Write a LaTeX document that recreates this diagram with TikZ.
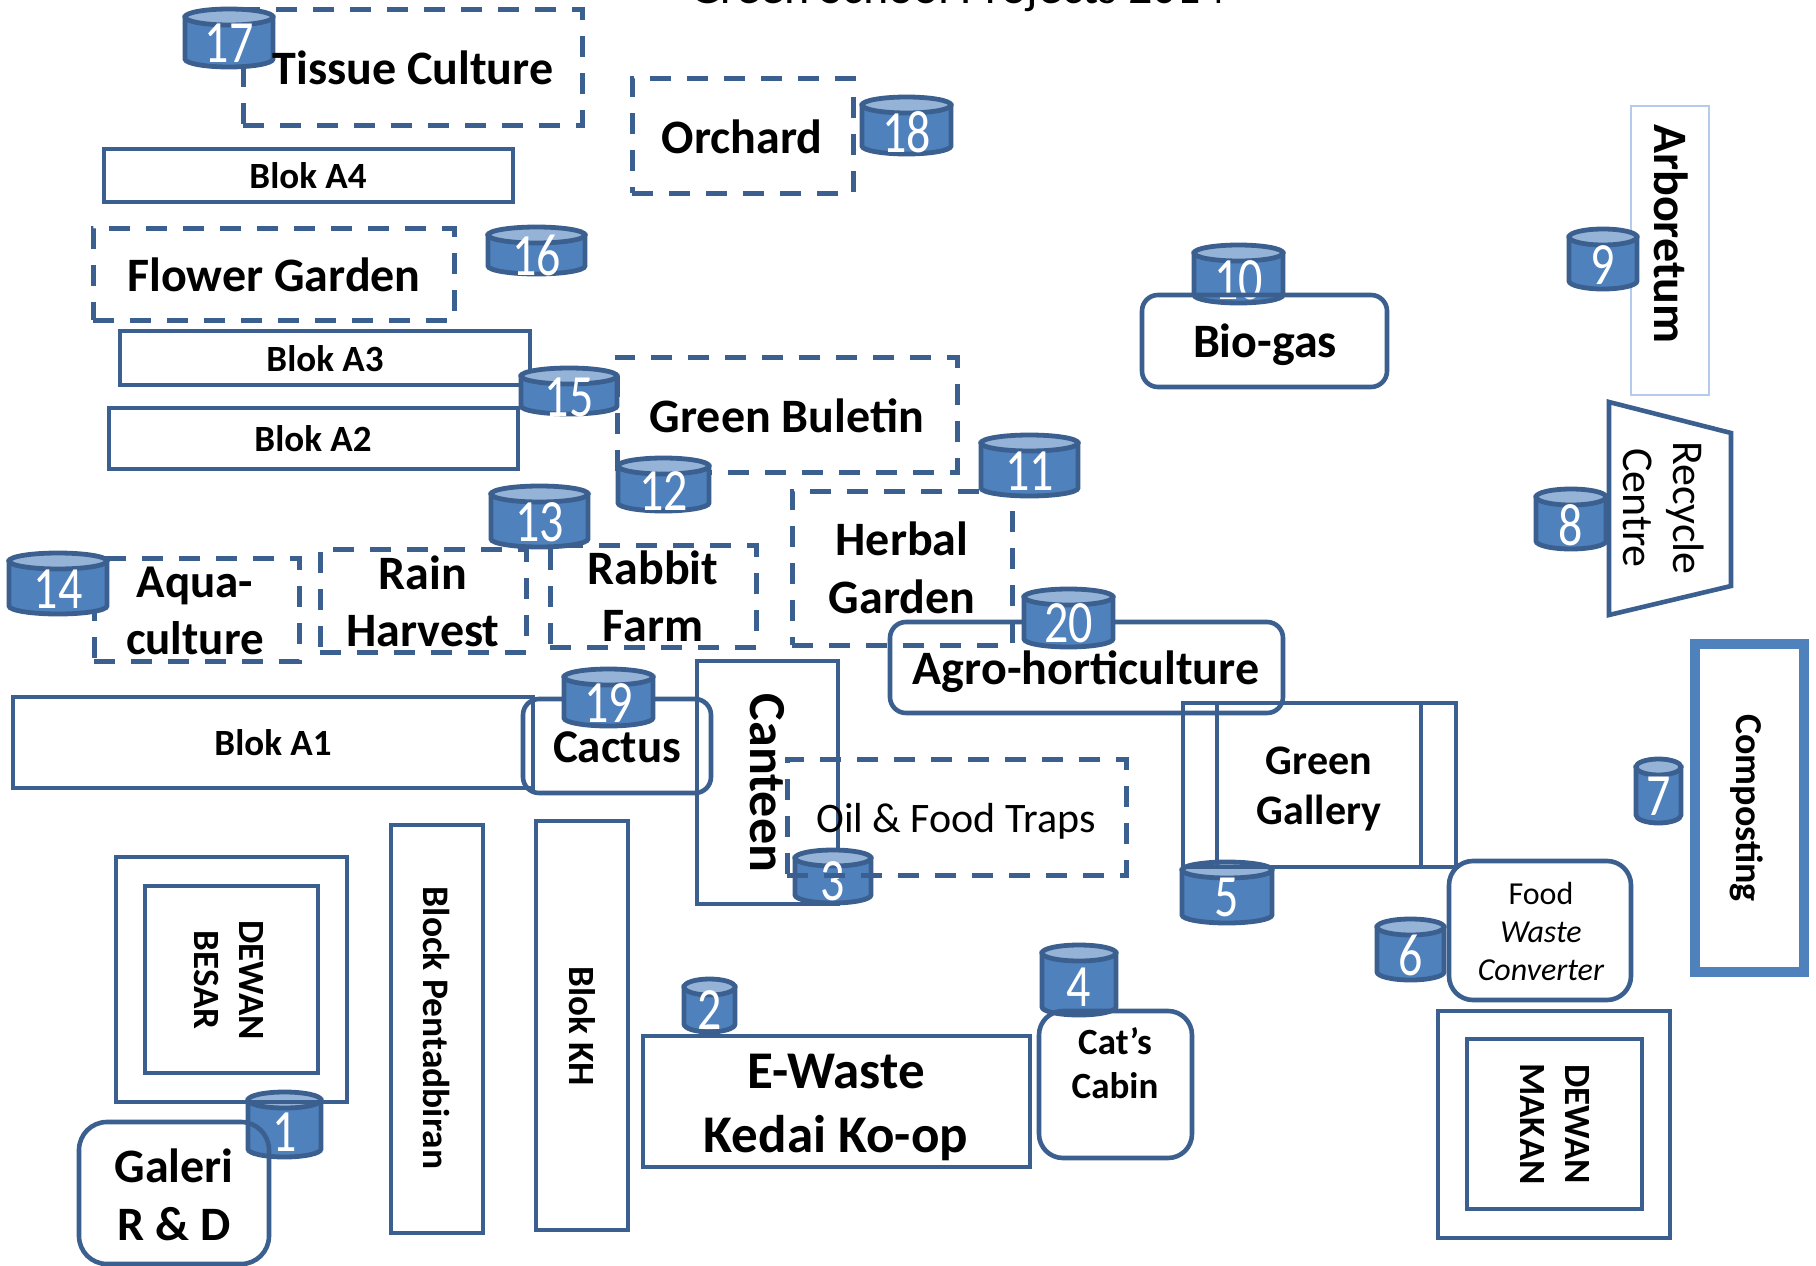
\documentclass[tikz,border=0pt]{standalone}
\usepackage{fontspec}
\usepackage{graphicx}
\setmainfont{Carlito}
\usetikzlibrary{fit}
\definecolor{edgeblue}{HTML}{3B6090}
\definecolor{canblue}{HTML}{4F81BD}
\definecolor{canlid}{HTML}{95B3D7}
\definecolor{paleedge}{HTML}{B5CBEB}
\tikzset{
  bxline/.style={draw=edgeblue,line width=4.6pt,line join=miter},
  solidbox/.style={bxline,rectangle,inner sep=0pt,minimum size=0pt},
  dashbox/.style={solidbox,line width=5pt,dash pattern=on 21pt off 16pt},
  roundbox/.style={solidbox,rounded corners=#1},
  roundbox/.default=16pt,
  txt/.style={inner sep=0pt,align=center,font=\bfseries},
  canline/.style={draw=edgeblue,line width=4.8pt},
}
% box: style, name, x1, y1, x2, y2
\newcommand\bx[6]{\node[#1,fit={(#3,#4)(#5,#6)}] (#2) {};}
% text: options, name, x, y, size, leading, text
\newcommand\tx[7][]{\node[txt,font=\fontsize{#5}{#6}\selectfont\bfseries,#1] (#2) at (#3,#4) {#7};}
% can: name, x1, y1, x2, y2, number, number centre y
\newcommand\can[7]{%
  \pgfmathsetmacro\Cl{#2+2}\pgfmathsetmacro\Cr{#4-2}%
  \pgfmathsetmacro\Cx{(#2+#4)/2}\pgfmathsetmacro\Rx{(#4-#2)/2-2}%
  \pgfmathsetmacro\Ry{8}%
  \pgfmathsetmacro\Yt{#3+2+\Ry}\pgfmathsetmacro\Yb{#5-2-\Ry}%
  \pgfmathsetmacro\Ys{\Yb+0.55*\Ry}\pgfmathsetmacro\Ye{\Yb+\Ry}%
  \pgfmathsetmacro\Xa{\Cx-0.55*\Rx}\pgfmathsetmacro\Xb{\Cx+0.55*\Rx}%
  \draw[canline,fill=canblue] (\Cl,\Yt) -- (\Cl,\Yb) .. controls (\Cl,\Ys) and (\Xa,\Ye) .. (\Cx,\Ye)
     .. controls (\Xb,\Ye) and (\Cr,\Ys) .. (\Cr,\Yb) -- (\Cr,\Yt) -- cycle;
  \draw[canline,fill=canlid] (\Cx,\Yt) ellipse [x radius=\Rx,y radius=\Ry];
  \node[inner sep=0pt,text=white,font=\fontsize{60}{60}\selectfont] (#1) at (\Cx,#7) {\scalebox{0.8}[1]{#6}};%
}
\begin{document}
\begin{tikzpicture}[x=1pt,y=-1pt]
\useasboundingbox (0,0) rectangle (1816,1266);
\fill[white] (0,0) rectangle (1816,1266);
% title
\node[inner sep=0pt,anchor=base,font=\fontsize{48}{54}\selectfont] (title) at (958,4) {Green School Projects 2014};

% top left
\bx{dashbox}{tissue}{243}{9}{582}{125}
\can{c17}{183}{7}{275}{69}{17}{43}
\tx{tissuet}{413}{68}{48}{56}{Tissue Culture}
\bx{solidbox}{a4}{104}{149}{513}{202}
\tx{a4t}{308}{176}{37}{44}{Blok A4}
\bx{dashbox}{flower}{93}{228}{454}{320}
\tx{flowert}{274}{275}{48}{56}{Flower Garden}
\can{c16}{486}{225}{587}{276}{16}{255}
\bx{solidbox}{a3}{120}{331}{530}{385}
\tx{a3t}{325}{359}{37}{44}{Blok A3}
\bx{solidbox}{a2}{109}{408}{518}{469}
\tx{a2t}{313}{439}{37}{44}{Blok A2}
\bx{dashbox}{orchard}{632}{78}{853}{193}
\tx{orchardt}{742}{137}{48}{56}{Orchard}
\can{c18}{860}{95}{953}{156}{18}{132}
\bx{dashbox}{bulletin}{617}{357}{957}{472}
\tx{bulletint}{787}{416}{48}{56}{Green Buletin}
\can{c15}{519}{366}{619}{416}{15}{397}
\can{c12}{616}{456}{711}{513}{12}{491}

% middle row
\bx{dashbox}{aqua}{94}{558}{299}{661}
\tx{aquat}{195}{611}{47}{57}{Aqua-\\culture}
\bx{dashbox}{rain}{320}{549}{526}{652}
\tx{raint}{423}{601}{48}{57}{Rain\\Harvest}
\bx{dashbox}{rabbit}{550}{545}{756}{647}
\tx{rabbitt}{653}{596}{48}{57}{Rabbit\\Farm}
\can{c13}{489}{484}{590}{549}{13}{522}
\can{c14}{7}{551}{109}{616}{14}{589}
\bx{dashbox}{herbal}{792}{491}{1012}{645}
\tx{herbalt}{902}{568}{48}{58}{Herbal\\Garden}
\can{c11}{979}{433}{1080}{498}{11}{471}
\bx{roundbox}{agro}{890}{622}{1283}{713}
\can{c20}{1022}{587}{1115}{649}{20}{623}
\tx{agrot}{1086}{672}{48}{56}{Agro-horticulture}

% blok A1 / cactus / canteen
\bx{solidbox}{a1}{13}{697}{533}{788}
\tx{a1t}{273}{743}{37}{44}{Blok A1}
\bx{solidbox}{canteen}{697}{661}{838}{904}
\tx[rotate=-90]{canteent}{767}{783}{52}{58}{Canteen}
\bx{roundbox}{cactus}{523}{699}{711}{793}
\can{c19}{562}{667}{655}{728}{19}{703}
\tx{cactust}{617}{747}{47}{54}{Cactus}
\can{c3}{793}{848}{873}{905}{3}{881}
\bx{dashbox}{oil}{787}{759}{1126}{875}
\node[txt,font=\fontsize{42}{50}\selectfont] (oilt) at (956,821) {Oil \& Food Traps};

% lower left
\can{c1}{246}{1090}{323}{1159}{1}{1132}
\bx{solidbox}{dbo}{116}{857}{347}{1102}
\bx{solidbox}{dbi}{145}{886}{318}{1073}
\tx[rotate=-90]{dbt}{229}{980}{37}{45}{DEWAN\\BESAR}
\bx{roundbox=28pt}{galeri}{79}{1122}{269}{1264}
\tx{galerit}{174}{1195}{48}{58}{Galeri\\R \& D}
\bx{solidbox}{pent}{391}{825}{483}{1233}
\tx[rotate=-90]{pentt}{437}{1028}{37.5}{44}{Block Pentadbiran}
\bx{solidbox}{kh}{536}{821}{628}{1230}
\tx[rotate=-90]{kht}{582}{1026}{37}{44}{Blok KH}

% lower centre
\can{c2}{682}{977}{737}{1034}{2}{1010}
\bx{solidbox}{ewaste}{643}{1036}{1030}{1167}
\tx{ewastet}{836}{1107}{53}{64}{E-Waste\\Kedai Ko-op}
\can{c4}{1040}{943}{1118}{1017}{4}{987}
\bx{roundbox=24pt}{cats}{1039}{1011}{1192}{1158}
\tx{catst}{1115}{1063}{37}{44}{Cat’s\\Cabin}

% right
\can{c10}{1192}{243}{1285}{305}{10}{280}
\bx{roundbox}{biogas}{1142}{295}{1387}{387}
\tx{biogast}{1265}{345}{48}{56}{Bio-gas}
\bx{solidbox,draw=paleedge,line width=2.5pt}{arbor}{1631}{106}{1709}{395}
\tx[rotate=-90]{arbort}{1671}{234}{48}{56}{Arboretum}
\can{c9}{1567}{227}{1639}{291}{9}{265}
\draw[bxline] (1609,402) -- (1731,433) -- (1731,586) -- (1609,615) -- cycle;
\node[txt,font=\fontsize{44}{50}\selectfont,rotate=-90] (recyclet) at (1664,508) {Recycle\\Centre};
\can{c8}{1534}{487}{1608}{551}{8}{525}
\bx{solidbox,draw=canblue,line width=10.5pt}{compost}{1695}{644}{1804}{972}
\tx[rotate=-90]{compostt}{1747}{808}{38}{44}{Composting}
\can{c7}{1634}{757}{1683}{825}{7}{796}
\can{c5}{1180}{860}{1274}{925}{5}{897}
\bx{solidbox}{gallery}{1183}{703}{1456}{867}
\draw[bxline] (gallery.north west -| 1217,0) -- (gallery.south west -| 1217,0);
\draw[bxline] (gallery.north west -| 1421,0) -- (gallery.south west -| 1421,0);
\tx{galleryt}{1319}{789}{42}{50}{Green\\Gallery}
\can{c6}{1375}{917}{1446}{982}{6}{955}
\bx{roundbox=24pt}{food}{1449}{861}{1631}{1000}
\node[inner sep=0pt,align=center,font=\fontsize{32}{38}\selectfont] (foodt) at (1541,931) {Food\\\textit{Waste}\\\textit{Converter}};
\bx{solidbox}{dmo}{1438}{1011}{1670}{1238}
\bx{solidbox}{dmi}{1467}{1039}{1642}{1209}
\tx[rotate=-90]{dmt}{1555}{1124}{37}{45}{DEWAN\\MAKAN}
\end{tikzpicture}
\end{document}
